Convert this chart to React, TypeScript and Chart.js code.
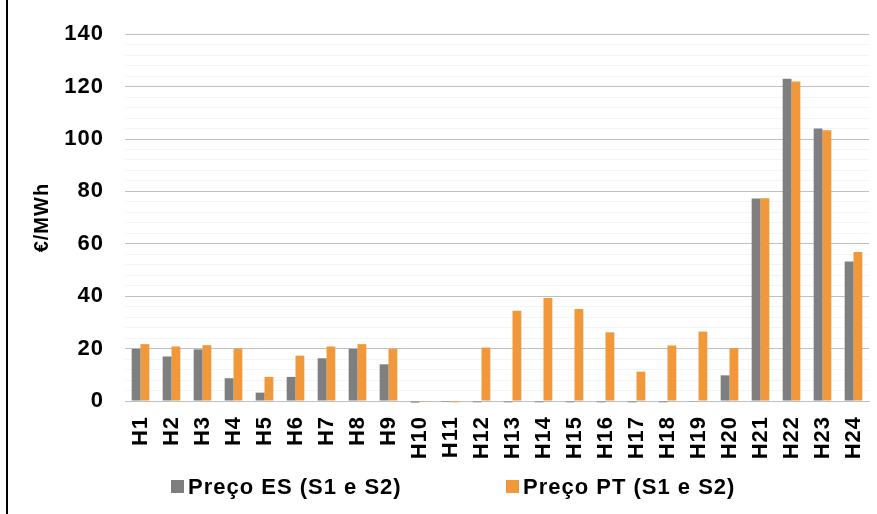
import React, { useEffect, useRef } from "react";
import { Chart, registerables } from "chart.js";

Chart.register(...registerables);

const hours = [
  "H1", "H2", "H3", "H4", "H5", "H6", "H7", "H8", "H9", "H10", "H11", "H12",
  "H13", "H14", "H15", "H16", "H17", "H18", "H19", "H20", "H21", "H22", "H23", "H24",
];

const esPrices = [
  19.9, 17.0, 19.7, 8.7, 3.2, 9.2, 16.3, 19.9, 14.0, -0.6, -0.4, -0.5,
  -0.5, -0.5, -0.5, -0.5, -0.5, -0.5, -0.3, 9.8, 77.3, 123.0, 104.0, 53.2,
];

const ptPrices = [
  21.7, 20.8, 21.3, 20.0, 9.2, 17.3, 20.8, 21.7, 19.9, -0.1, -0.5, 20.4,
  34.4, 39.3, 35.1, 26.2, 11.2, 21.2, 26.5, 20.2, 77.4, 121.9, 103.3, 56.9,
];

const seriesLabels = ["Preço ES (S1 e S2)", "Preço PT (S1 e S2)"];
const seriesColors = ["#7F7F7F", "#F0983A"];

const yMin = 0;
const yMax = 140;
const yMajorStep = 20;
const yMinorStep = 4;
const yTitle = "€/MWh";

const FONT = "'Liberation Sans', Arial, Helvetica, sans-serif";

export default function App() {
  const ref = useRef<HTMLCanvasElement | null>(null);

  useEffect(() => {
    document.body.style.margin = "0";
    const canvas = ref.current;
    if (!canvas) return;

    const framePlugin = {
      id: "frameAndLegend",
      beforeUpdate(chart: any) {
        chart.ctx.letterSpacing = "1px";
      },
      beforeDraw(chart: any) {
        const ctx = chart.ctx;
        ctx.save();
        ctx.fillStyle = "#ffffff";
        ctx.fillRect(0, 0, chart.width, chart.height);
        ctx.fillStyle = "#000000";
        ctx.fillRect(6, 0, 2, chart.height);
        ctx.restore();
        ctx.letterSpacing = "1px";
      },
      afterDraw(chart: any) {
        const ctx = chart.ctx;
        const starts = [171, 506];
        const boxTop = 480;
        const box = 13;
        ctx.save();
        ctx.letterSpacing = "1px";
        ctx.font = `bold 22px ${FONT}`;
        ctx.textBaseline = "middle";
        ctx.textAlign = "left";
        chart.data.datasets.forEach((ds: any, i: number) => {
          const x = starts[i];
          ctx.fillStyle = ds.backgroundColor;
          ctx.fillRect(x, boxTop, box, box);
          ctx.fillStyle = "#000000";
          ctx.fillText(ds.label, x + box + 4, boxTop + box / 2 + 1);
        });
        ctx.restore();
      },
    };

    const chart = new Chart(canvas, {
      type: "bar",
      data: {
        labels: hours,
        datasets: [
          {
            label: seriesLabels[0],
            data: esPrices,
            backgroundColor: seriesColors[0],
            borderWidth: 0,
            categoryPercentage: 0.57,
            barPercentage: 1.0,
            clip: false as any,
          },
          {
            label: seriesLabels[1],
            data: ptPrices,
            backgroundColor: seriesColors[1],
            borderWidth: 0,
            categoryPercentage: 0.57,
            barPercentage: 1.0,
            clip: false as any,
          },
        ],
      },
      options: {
        responsive: false,
        animation: false,
        devicePixelRatio: 1,
        layout: { padding: { left: 0, right: 8, top: 31, bottom: 0 } },
        plugins: {
          legend: { display: false },
          tooltip: { enabled: false },
        },
        scales: {
          x: {
            grid: { display: false, drawTicks: false },
            border: { display: true, color: "#BFBFBF", width: 1 },
            ticks: {
              autoSkip: false,
              maxRotation: 90,
              minRotation: 90,
              padding: 15,
              color: "#000000",
              font: { family: FONT, size: 22, weight: "bold" },
            },
            afterFit: (s: any) => {
              s.height = 113;
              s.paddingLeft = 0;
              s.paddingRight = 0;
            },
          },
          y: {
            min: yMin,
            max: yMax,
            grid: {
              drawTicks: false,
              lineWidth: 1,
              color: (c: any) =>
                c.tick && c.tick.value % yMajorStep === 0 ? "#BFBFBF" : "#F3F4F9",
            },
            border: { display: false },
            ticks: {
              stepSize: yMinorStep,
              autoSkip: false,
              padding: 21,
              color: "#000000",
              font: { family: FONT, size: 22, weight: "bold" },
              callback: (v: any) => (Number(v) % yMajorStep === 0 ? String(v) : ""),
            },
            title: {
              display: true,
              text: yTitle,
              color: "#000000",
              font: { family: FONT, size: 20, weight: "bold" },
              padding: { top: 30, bottom: 0 },
            },
            afterFit: (s: any) => {
              s.width = 125;
            },
          },
        },
      },
      plugins: [framePlugin],
    });

    return () => {
      chart.destroy();
    };
  }, []);

  return (
    <div style={{ width: 877, height: 514, background: "#fff" }}>
      <canvas ref={ref} width={877} height={514} style={{ display: "block", width: 877, height: 514 }} />
    </div>
  );
}
